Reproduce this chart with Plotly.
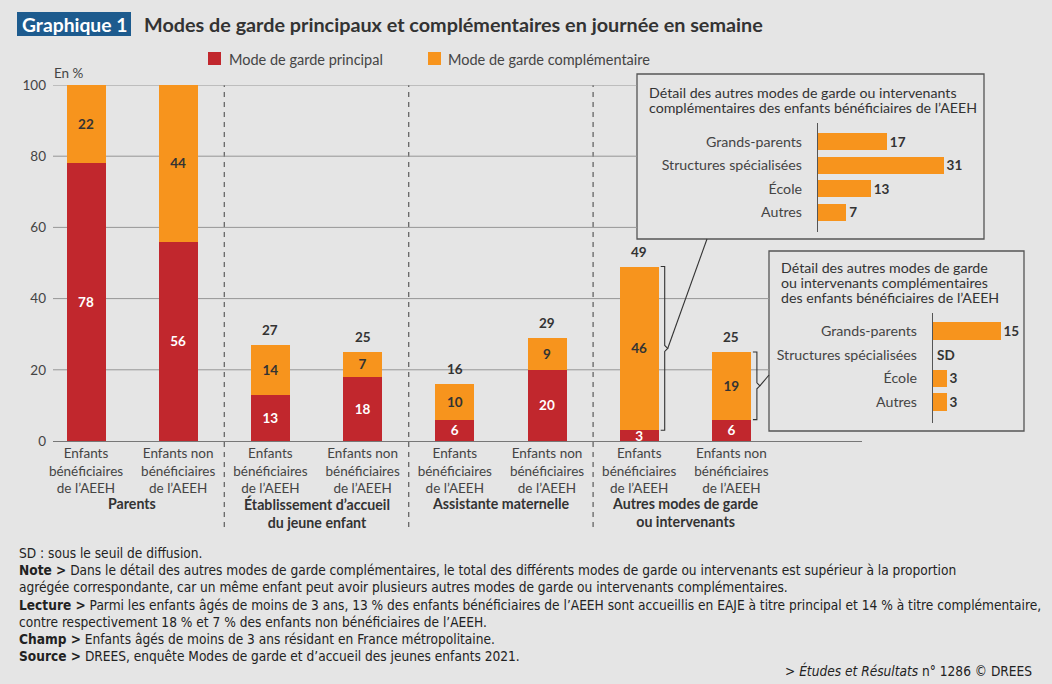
import plotly.graph_objects as go

W, H = 1052, 684
BG = "#e5e5e5"
RED = "#c1272d"
ORANGE = "#f7941d"
TXT = "#333333"
TXT2 = "#444444"
FONT = "Lato"
NOTE_FONT = "Liberation Sans Narrow, DejaVu Sans Condensed, sans-serif"

# ---------------- data ----------------
categories = ["Enfants<br>bénéficiaires<br>de l’AEEH", "Enfants non<br>bénéficiaires<br>de l’AEEH"] * 4
groups = ["Parents", "Établissement d’accueil<br>du jeune enfant",
          "Assistante maternelle", "Autres modes de garde<br>ou intervenants"]
principal = [78, 56, 13, 18, 6, 20, 3, 6]
complementaire = [22, 44, 14, 7, 10, 9, 46, 19]
y_ticks = [0, 20, 40, 60, 80, 100]

detail_labels = ["Grands-parents", "Structures spécialisées", "École", "Autres"]
detail_aeeh = [17, 31, 13, 7]
detail_non_aeeh = [15, None, 3, 3]   # None = SD (sous le seuil de diffusion)

title_badge = "Graphique 1"
title_text = "Modes de garde principaux et complémentaires en journée en semaine"
legend_names = ["Mode de garde principal", "Mode de garde complémentaire"]
inset1_title = ["Détail des autres modes de garde ou intervenants",
                "complémentaires des enfants bénéficiaires de l’AEEH"]
inset2_title = ["Détail des autres modes de garde",
                "ou intervenants complémentaires",
                "des enfants bénéficiaires de l’AEEH"]
notes = [
    "SD : sous le seuil de diffusion.",
    "<b>Note ></b> Dans le détail des autres modes de garde complémentaires, le total des différents modes de garde ou intervenants est supérieur à la proportion",
    "agrégée correspondante, car un même enfant peut avoir plusieurs autres modes de garde ou intervenants complémentaires.",
    "<b>Lecture ></b> Parmi les enfants âgés de moins de 3 ans, 13 % des enfants bénéficiaires de l’AEEH sont accueillis en EAJE à titre principal et 14 % à titre complémentaire,",
    "contre respectivement 18 % et 7 % des enfants non bénéficiaires de l’AEEH.",
    "<b>Champ ></b> Enfants âgés de moins de 3 ans résidant en France métropolitaine.",
    "<b>Source ></b> DREES, enquête Modes de garde et d’accueil des jeunes enfants 2021.",
]
source_line = "> <i>Études et Résultats</i> n° 1286 © DREES"

# ---------------- geometry helpers ----------------
def fx(px):
    return px / W

def fy(py):
    return 1 - py / H

PX_L, PX_R = 53, 862
PY_0, PY_100 = 441, 85
X0_PX, STEP = 86.0, 92.2
PX_PER_UNIT_Y = (PY_0 - PY_100) / 100.0

def dx(px):
    return (px - X0_PX) / STEP

def dy(py):
    return (PY_0 - py) / PX_PER_UNIT_Y

BAR_W = 39 / STEP
xs = list(range(len(principal)))
totals = [p + c for p, c in zip(principal, complementaire)]

BOX1 = (637, 74, 984, 239)
BOX2 = (769, 251, 1024, 431)

fig = go.Figure()

fig.add_trace(go.Bar(
    x=xs, y=principal, width=BAR_W, marker=dict(color=RED, line=dict(width=0)),
    text=[str(v) for v in principal], textposition="inside", insidetextanchor="middle",
    textangle=0, insidetextfont=dict(family=FONT, size=13.5, color="white", weight="bold"),
    name=legend_names[0], hoverinfo="skip", cliponaxis=False,
))
fig.add_trace(go.Bar(
    x=xs, y=complementaire, width=BAR_W, marker=dict(color=ORANGE, line=dict(width=0)),
    text=[str(v) for v in complementaire], textposition="inside", insidetextanchor="middle",
    textangle=0, insidetextfont=dict(family=FONT, size=13.5, color=TXT, weight="bold"),
    name=legend_names[1], hoverinfo="skip", cliponaxis=False,
))

fig.add_trace(go.Bar(
    y=list(range(len(detail_labels))), x=detail_aeeh, orientation="h", width=0.73,
    marker=dict(color=ORANGE, line=dict(width=0)),
    text=[str(v) for v in detail_aeeh], textposition="outside",
    outsidetextfont=dict(family=FONT, size=13.5, color=TXT, weight="bold"),
    xaxis="x2", yaxis="y2", hoverinfo="skip", cliponaxis=False,
))
fig.add_trace(go.Bar(
    y=list(range(len(detail_labels))), x=[v if v is not None else 0 for v in detail_non_aeeh],
    orientation="h", width=0.73,
    marker=dict(color=ORANGE, line=dict(width=0)),
    text=[str(v) if v is not None else "" for v in detail_non_aeeh], textposition="outside",
    outsidetextfont=dict(family=FONT, size=13.5, color=TXT, weight="bold"),
    xaxis="x3", yaxis="y3", hoverinfo="skip", cliponaxis=False,
))

shapes = []
annotations = []

def note(xp, yp, text, size, color=TXT, xanchor="left", yanchor="middle", family=FONT, **kw):
    annotations.append(dict(x=fx(xp), y=fy(yp), xref="paper", yref="paper", text=text,
                            showarrow=False, xanchor=xanchor, yanchor=yanchor,
                            font=dict(family=family, size=size, color=color), **kw))

# gridlines (stop at the inset boxes)
for t in y_ticks[1:]:
    tpx = PY_0 - t * PX_PER_UNIT_Y
    if BOX1[1] - 15 <= tpx <= BOX1[3]:
        xend = dx(BOX1[0])
    elif BOX2[1] <= tpx <= BOX2[3]:
        xend = dx(BOX2[0])
    else:
        xend = dx(PX_R)
    shapes.append(dict(type="line", xref="x", yref="y", x0=dx(PX_L), x1=xend, y0=t, y1=t,
                       line=dict(color="#969696", width=1), layer="below"))

# dashed group separators
for g in range(1, 4):
    xsep = 2 * g - 0.5
    shapes.append(dict(type="line", xref="x", yref="paper", x0=xsep, x1=xsep,
                       y0=fy(527), y1=fy(PY_100),
                       line=dict(color="#666666", width=1.3, dash="5px,5px"), layer="below"))

# inset boxes
for (x0, y0, x1, y1) in (BOX1, BOX2):
    shapes.append(dict(type="rect", xref="paper", yref="paper", x0=fx(x0), x1=fx(x1),
                       y0=fy(y1), y1=fy(y0), fillcolor=BG,
                       line=dict(color="#555555", width=1.3), layer="below"))

def bracket(i, target_px, target_py):
    xb = i + BAR_W / 2 + 6 / STEP
    tick = 4 / STEP
    kink = 3 / STEP
    lo, hi = principal[i], totals[i]
    mid = (lo + hi) / 2
    d = 3 / PX_PER_UNIT_Y
    path = (f"M {xb - tick},{hi} L {xb},{hi} L {xb},{mid + d} L {xb + kink},{mid} "
            f"L {xb},{mid - d} L {xb},{lo} L {xb - tick},{lo}")
    shapes.append(dict(type="path", xref="x", yref="y", path=path,
                       line=dict(color="#333333", width=1.1)))
    shapes.append(dict(type="line", xref="x", yref="y", x0=xb + kink, y0=mid,
                       x1=dx(target_px), y1=dy(target_py),
                       line=dict(color="#333333", width=1.1)))

bracket(6, 707, BOX1[3])
bracket(7, BOX2[0], 375)

for i, t in enumerate(totals):
    if t < 100:
        annotations.append(dict(x=i, y=t, xref="x", yref="y", text=f"<b>{t}</b>",
                                showarrow=False, xanchor="center", yanchor="bottom", yshift=5,
                                font=dict(family=FONT, size=13.5, color=TXT)))

for g, lab in enumerate(groups):
    annotations.append(dict(x=2 * g + 0.5, y=fy(493), xref="x", yref="paper",
                            text=f"<b>{lab}</b>", showarrow=False, xanchor="center",
                            yanchor="top", font=dict(family=FONT, size=14.2, color=TXT)))

for k, v in enumerate(detail_non_aeeh):
    if v is None:
        annotations.append(dict(x=0, y=k, xref="x3", yref="y3", text="<b>SD</b>",
                                showarrow=False, xanchor="left", yanchor="middle", xshift=2,
                                font=dict(family=FONT, size=13.5, color=TXT)))

note(52, 73, "En %", 13.5, TXT2)

for k, line in enumerate(inset1_title):
    note(647, 92 + k * 15.5, line, 14.2)
for k, line in enumerate(inset2_title):
    note(779, 267 + k * 15.5, line, 14.2)

# title
shapes.append(dict(type="rect", xref="paper", yref="paper", x0=fx(17), x1=fx(131),
                   y0=fy(36), y1=fy(12), fillcolor="#1d5b8e", line=dict(width=0)))
note(74, 24, f"<b>{title_badge}</b>", 19.3, "white", xanchor="center")
note(142, 24, f"<b>{title_text}</b>", 19.8, TXT)

# legend
for (sq_x, txt_x, col, name) in ((208, 227, RED, legend_names[0]), (428, 446, ORANGE, legend_names[1])):
    shapes.append(dict(type="rect", xref="paper", yref="paper", x0=fx(sq_x), x1=fx(sq_x + 13),
                       y0=fy(65), y1=fy(52), fillcolor=col, line=dict(width=0)))
    note(txt_x, 59, name, 14.5, TXT2)

# notes
for k, line in enumerate(notes):
    note(17, 553 + k * 17.2, line, 13.6, "#222222", family=NOTE_FONT)
note(1034, 670, source_line, 13.6, "#222222", xanchor="right", family=NOTE_FONT)

fig.update_layout(
    width=W, height=H, margin=dict(l=0, r=0, t=0, b=0, pad=0, autoexpand=False),
    paper_bgcolor=BG, plot_bgcolor=BG, showlegend=False, barmode="stack",
    font=dict(family=FONT, color=TXT),
    uniformtext=dict(minsize=13, mode="show"),
    shapes=shapes, annotations=annotations,
    xaxis=dict(domain=[fx(PX_L), fx(PX_R)], range=[dx(PX_L), dx(PX_R)],
               tickvals=xs, ticktext=categories, showgrid=False, zeroline=False,
               showline=True, linecolor="#777777", linewidth=1.2, ticks="",
               automargin=False,
               tickfont=dict(family=FONT, size=13.5, color=TXT2), fixedrange=True),
    yaxis=dict(domain=[fy(PY_0), fy(PY_100)], range=[0, 100], tickvals=y_ticks,
               showgrid=False, zeroline=False, showline=False, ticks="",
               ticklabelstandoff=6, automargin=False,
               tickfont=dict(family=FONT, size=13.5, color=TXT2), fixedrange=True),
    xaxis2=dict(domain=[fx(818), fx(818 + 4.05 * 40)], range=[0, 40], anchor="y2",
                visible=False, fixedrange=True, automargin=False),
    yaxis2=dict(domain=[fy(232), fy(123)], range=[3.85, -0.8], anchor="x2",
                tickvals=list(range(4)), ticktext=detail_labels, showgrid=False,
                zeroline=False, showline=True, linecolor="#555555", linewidth=1.3,
                ticks="", ticklabelstandoff=12, automargin=False,
                tickfont=dict(family=FONT, size=14.2, color=TXT2), fixedrange=True),
    xaxis3=dict(domain=[fx(933), fx(933 + 4.5 * 20)], range=[0, 20], anchor="y3",
                visible=False, fixedrange=True, automargin=False),
    yaxis3=dict(domain=[fy(423), fy(313)], range=[3.89, -0.76], anchor="x3",
                tickvals=list(range(4)), ticktext=detail_labels, showgrid=False,
                zeroline=False, showline=True, linecolor="#555555", linewidth=1.3,
                ticks="", ticklabelstandoff=12, automargin=False,
                tickfont=dict(family=FONT, size=14.2, color=TXT2), fixedrange=True),
)

fig.write_html("out.html")
